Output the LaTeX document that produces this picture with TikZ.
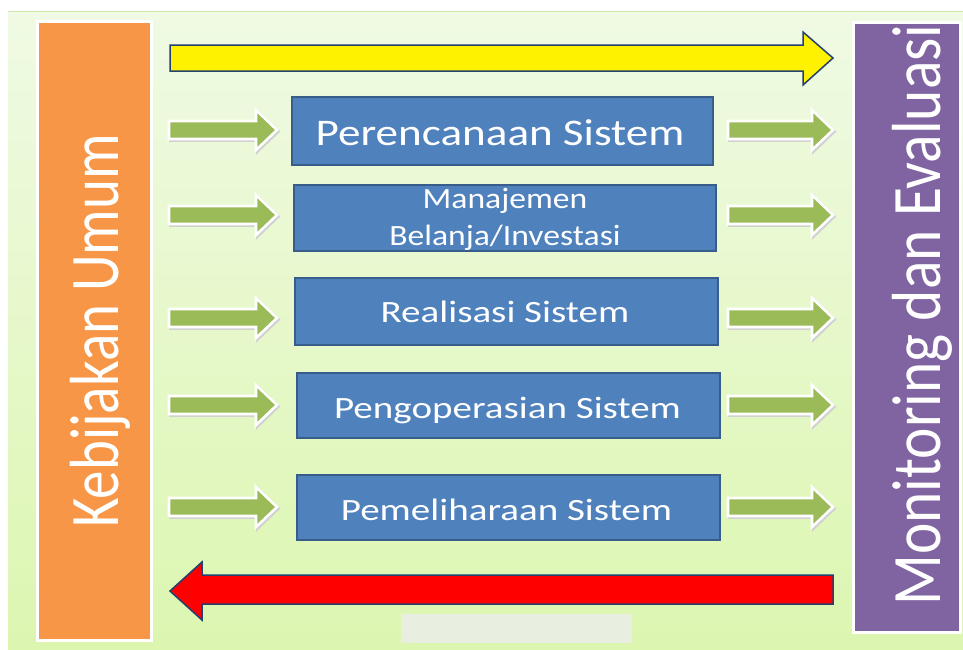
\documentclass[tikz,border=0pt]{standalone}
\usepackage{fontspec}
\setmainfont{Carlito}
\usepackage{graphicx}
\definecolor{bgtop}{RGB}{240,250,228}
\definecolor{bgbot}{RGB}{220,246,176}
\definecolor{orangebar}{RGB}{247,150,70}
\definecolor{purplebar}{RGB}{128,100,162}
\definecolor{boxblue}{RGB}{79,129,189}
\definecolor{boxedge}{RGB}{56,93,138}
\definecolor{arrowgreen}{RGB}{155,187,89}
\definecolor{navyedge}{RGB}{36,64,110}
\definecolor{paleblock}{RGB}{232,238,224}
\tikzset{
  sidebar/.style={draw=white, line width=3pt, inner sep=0pt},
  procbox/.style={draw=boxedge, line width=1.4pt, fill=boxblue, inner sep=0pt},
  boxtext/.style={text=white, anchor=base, inner sep=0pt},
  bartext/.style={text=white, anchor=base, inner sep=0pt, rotate=90},
  garrow/.style={fill=arrowgreen, draw=white, line width=2.6pt, line join=miter},
  gshadow/.style={draw=black!18, line width=2.6pt, line join=miter},
  bigarrow/.style={draw=navyedge, line width=1.5pt, line join=miter}
}
% block arrow pointing right: start x, tip x, centre y
\newcommand\greenarrow[3]{%
  \draw[gshadow] (#1+1.5,#3-9+1.5) -- (#2-21+1.5,#3-9+1.5) -- (#2-21+1.5,#3-20+1.5) -- (#2+1.5,#3+1.5)
    -- (#2-21+1.5,#3+20+1.5) -- (#2-21+1.5,#3+9+1.5) -- (#1+1.5,#3+9+1.5) -- cycle;
  \filldraw[garrow] (#1,#3-9) -- (#2-21,#3-9) -- (#2-21,#3-20) -- (#2,#3)
    -- (#2-21,#3+20) -- (#2-21,#3+9) -- (#1,#3+9) -- cycle;}
\begin{document}
\begin{tikzpicture}[x=1pt,y=-1pt]
\useasboundingbox (0,0) rectangle (963,649);
\fill[white] (0,0) rectangle (963,649);
\shade[top color=bgtop, bottom color=bgbot] (8,11) rectangle (963,649);
\draw[line width=0.8pt, color={rgb,255:red,205;green,228;blue,170}] (8,11) -- (963,11);

% side bars
\node[sidebar, fill=orangebar, minimum width=114pt, minimum height=619pt] (kebijakan) at (94,330.5) {};
\node[sidebar, fill=purplebar, minimum width=107pt, minimum height=610pt] (monev) at (906.5,327) {};
\node[bartext] (kebtext) at (118,331) {\fontsize{57}{60}\selectfont\scalebox{1}[1.22]{Kebijakan Umum}};
\node[bartext] (montext) at (940,315) {\fontsize{59.4}{62}\selectfont\scalebox{1}[1.17]{Monitoring dan Evaluasi}};

% top and bottom flow arrows
\filldraw[bigarrow, fill=yellow] (170,45) -- (803,45) -- (803,32) -- (833,58)
  -- (803,85) -- (803,71) -- (170,71) -- cycle;
\filldraw[bigarrow, fill=red] (833,575) -- (202,575) -- (202,562) -- (170,591)
  -- (202,620) -- (202,604) -- (833,604) -- cycle;

% process boxes
\node[procbox, minimum width=421pt, minimum height=68pt] (b1) at (502.5,131) {};
\node[procbox, minimum width=422pt, minimum height=66pt] (b2) at (505,218) {};
\node[procbox, minimum width=423pt, minimum height=67pt] (b3) at (506.5,311.5) {};
\node[procbox, minimum width=423pt, minimum height=65pt] (b4) at (508.5,405.5) {};
\node[procbox, minimum width=423pt, minimum height=65pt] (b5) at (508.5,507.5) {};

\node[boxtext] (t1) at (500,145) {\fontsize{37.6}{40}\selectfont\scalebox{1.2}[1]{Perencanaan Sistem}};
\node[boxtext] (t2a) at (505,208) {\fontsize{28}{30}\selectfont\scalebox{1.2}[1.05]{Manajemen}};
\node[boxtext] (t2b) at (505,245) {\fontsize{28}{30}\selectfont\scalebox{1.2}[1.05]{Belanja/Investasi}};
\node[boxtext] (t3) at (505,322) {\fontsize{31}{33}\selectfont\scalebox{1.26}[1]{Realisasi Sistem}};
\node[boxtext] (t4) at (507.5,418) {\fontsize{31}{33}\selectfont\scalebox{1.26}[1]{Pengoperasian Sistem}};
\node[boxtext] (t5) at (506.5,520) {\fontsize{31}{33}\selectfont\scalebox{1.26}[1]{Pemeliharaan Sistem}};

% green arrows into and out of each stage
\greenarrow{169}{277}{130}
\greenarrow{169}{277}{215}
\greenarrow{169}{277}{318}
\greenarrow{169}{277}{405}
\greenarrow{169}{277}{507}
\greenarrow{728}{833}{130}
\greenarrow{728}{833}{215}
\greenarrow{728}{833}{318}
\greenarrow{728}{833}{405}
\greenarrow{728}{833}{507}

% pale block at the bottom edge
\fill[paleblock] (401,614) rectangle (632,643);
\end{tikzpicture}
\end{document}
